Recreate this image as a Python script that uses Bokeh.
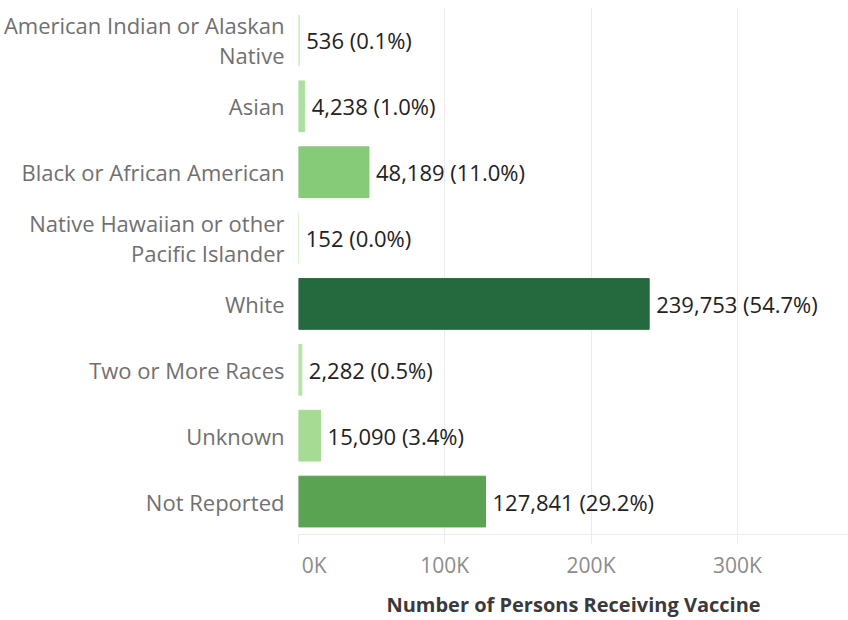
from bokeh.plotting import figure
from bokeh.models import ColumnDataSource, FixedTicker, FactorRange, Range1d
from bokeh.core.properties import value
from bokeh.embed import file_html
from bokeh.resources import INLINE

categories = [
    "American Indian or Alaskan\nNative",
    "Asian",
    "Black or African American",
    "Native Hawaiian or other\nPacific Islander",
    "White",
    "Two or More Races",
    "Unknown",
    "Not Reported",
]
persons = [536, 4238, 48189, 152, 239753, 2282, 15090, 127841]
percents = [0.1, 1.0, 11.0, 0.0, 54.7, 0.5, 3.4, 29.2]
colors = ["#C9EBBE", "#ADE0A0", "#86CB78", "#CDEDC3", "#256A3E", "#B5E3A9", "#A6DB93", "#59A352"]
tick_values = [0, 100000, 200000, 300000]
tick_labels = ["\u2003\u20020K", "100K", "200K", "300K"]

labels = [f"{v:,} ({p:.1f}%)" for v, p in zip(persons, percents)]
src = ColumnDataSource(dict(cat=categories, val=persons, lab=labels, col=colors))

FONT = "Open Sans"

p = figure(
    width=848, height=620,
    y_range=FactorRange(*list(reversed(categories)), range_padding=0),
    x_range=Range1d(0, 376000),
    output_backend="svg", toolbar_location=None,
    min_border_left=297, min_border_right=0, min_border_top=7, min_border_bottom=83,
)
p.outline_line_color = None
p.background_fill_color = "white"

p.hbar(y="cat", right="val", left=0, height=0.77, color="col", source=src)
p.text(x="val", y="cat", text="lab", source=src, x_offset=7,
       text_baseline="middle", text_align="left",
       text_font=value(FONT), text_font_size="22px", text_color="#222222")

p.xaxis.ticker = FixedTicker(ticks=tick_values)
p.xaxis.major_label_overrides = dict(zip(tick_values, tick_labels))
p.xaxis.major_label_text_font = FONT
p.xaxis.major_label_text_font_size = "21px"
p.xaxis.major_label_text_color = "#8c8c8c"
p.xaxis.major_label_standoff = 7
p.xaxis.axis_line_color = "#ebebeb"
p.xaxis.major_tick_line_color = "#ebebeb"
p.xaxis.major_tick_out = 9
p.xaxis.major_tick_in = 0
p.xaxis.minor_tick_line_color = None
p.xaxis.axis_label = "Number of Persons Receiving Vaccine"
p.xaxis.axis_label_text_font = FONT
p.xaxis.axis_label_text_font_size = "20px"
p.xaxis.axis_label_text_font_style = "bold"
p.xaxis.axis_label_text_color = "#3a3a3a"
p.xaxis.axis_label_standoff = 9

p.yaxis.axis_line_color = None
p.yaxis.major_tick_line_color = None
p.yaxis.minor_tick_line_color = None
p.yaxis.major_label_text_font = FONT
p.yaxis.major_label_text_font_size = "22px"
p.yaxis.major_label_text_color = "#707070"
p.yaxis.major_label_text_line_height = 1.0
p.yaxis.major_label_standoff = 8

p.xgrid.grid_line_color = "#ebebeb"
p.ygrid.grid_line_color = None

open("out.html", "w").write(file_html(p, INLINE))
